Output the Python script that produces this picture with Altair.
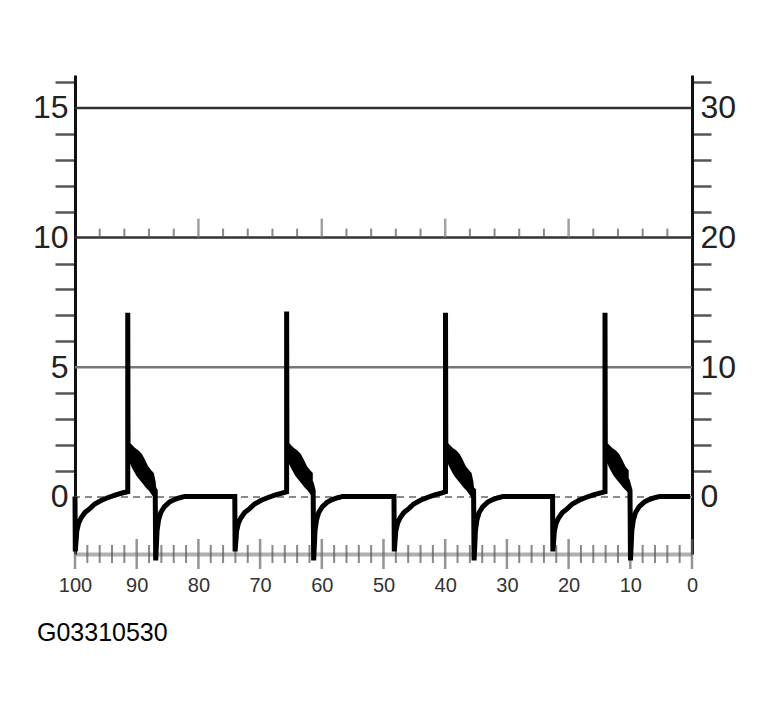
import altair as alt
import pandas as pd

# ---------------- axis values ----------------
x_labels = [100, 90, 80, 70, 60, 50, 40, 30, 20, 10, 0]
left_ticks = list(range(0, 17))          # left scale, 1 unit steps
right_ticks = list(range(0, 33, 2))      # right scale, 2 unit steps
bottom_ticks = list(range(0, 101, 2))    # ticks on the time base line
grid10_ticks = list(range(4, 100, 4))    # small marks above the 10 line
grid_levels = [15, 10, 5]
caption = "G03310530"

Y_MIN, Y_MAX = -2.2, 16.27
R_MIN, R_MAX = -4.4, 32.54

# ---------------- waveform ----------------
flat_drop_x = [100.0, 74.1, 48.3, 22.6]
spike_x = [91.45, 65.7, 39.95, 14.1]
post_drop_x = [87.0, 61.4, 35.4, 10.05]
spike_top = [7.1, 7.15, 7.1, 7.1]
trace_end_x = 0.3

# recovery after the drop from the flat part (distance after drop, value)
rec_a_d = [0.0, 0.05, 0.3, 0.6, 1.0, 1.6, 2.4, 3.2, 4.3, 5.4, 6.6, 7.8]
rec_a_y = [0.02, -2.1, -1.3, -1.0, -0.8, -0.6, -0.45, -0.27, -0.13, -0.02, 0.08, 0.16]

# ringing band after the spike (distance after spike, upper / lower edge)
band_u = [0.05, 0.4, 1.0, 1.6, 2.1, 2.6, 3.1, 3.6, 4.0, 4.3]
band_hi = [1.95, 2.0, 1.85, 1.75, 1.62, 1.4, 1.15, 1.0, 0.9, 0.55]
band_lo = [1.85, 1.4, 1.1, 0.85, 0.7, 0.55, 0.4, 0.28, 0.15, 0.05]

# recovery after the post-spike drop (distance after drop, value)
rec_b_e = [0.08, 0.3, 0.55, 0.9, 1.5, 2.3, 3.1, 4.0, 4.8]
rec_b_y = [-2.45, -1.3, -0.88, -0.6, -0.37, -0.2, -0.1, -0.03, 0.02]

xs, ys = [], []
bx, bh, bl, bc = [], [], [], []
for i in range(len(flat_drop_x)):
    F, S, P = flat_drop_x[i], spike_x[i], post_drop_x[i]
    for d, v in zip(rec_a_d, rec_a_y):
        xs.append(F - d); ys.append(v)
    xs.append(S); ys.append(0.2)
    xs.append(S); ys.append(spike_top[i])
    for u, hi, lo in zip(band_u, band_hi, band_lo):
        if u < S - P - 0.05:
            xs.append(S - u); ys.append((hi + lo) / 2)
            bx.append(S - u); bh.append(hi); bl.append(lo); bc.append(i)
    xs.append(P); ys.append(0.25)
    for e, v in zip(rec_b_e, rec_b_y):
        xs.append(P - e); ys.append(v)
xs.append(trace_end_x); ys.append(0.02)

trace = pd.DataFrame({"x": xs, "y": ys, "i": range(len(xs))})
band = pd.DataFrame({"x": bx, "hi": bh, "lo": bl, "c": bc})

# ---------------- scales & axes ----------------
xscale = alt.Scale(domain=[0, 100], reverse=True, nice=False, zero=False)
yscale = alt.Scale(domain=[Y_MIN, Y_MAX], nice=False, zero=False)
rscale = alt.Scale(domain=[R_MIN, R_MAX], nice=False, zero=False)

FONT = "Liberation Sans"

left_axis = alt.Axis(
    values=left_ticks, title=None, grid=False,
    tickSize=20, tickWidth=2.5, tickColor="#555",
    tickOpacity={"condition": {"test": "datum.value % 5 === 0", "value": 0}, "value": 1},
    labelExpr="datum.value % 5 === 0 ? datum.label : ''",
    labelFont=FONT, labelFontSize=32, labelColor="#222", labelPadding=-13,
    domainColor="#111", domainWidth=3,
)
right_axis = alt.Axis(
    orient="right", values=right_ticks, title=None, grid=False,
    tickSize=19, tickWidth=2.5, tickColor="#555",
    tickOpacity={"condition": {"test": "datum.value % 10 === 0", "value": 0}, "value": 1},
    labelExpr="datum.value % 10 === 0 ? datum.label : ''",
    labelFont=FONT, labelFontSize=32, labelColor="#222", labelPadding=-11,
    domainColor="#111", domainWidth=3,
)
bottom_axis = alt.Axis(
    values=x_labels, title=None, grid=False, ticks=False, tickSize=0,
    labelFont=FONT, labelFontSize=20, labelColor="#333", labelPadding=21,
    labelFlush=False, domainColor="#b0b0b0", domainWidth=4,
)


def X(field):
    return alt.X(field, type="quantitative", scale=xscale, axis=bottom_axis)


def Y(field):
    return alt.Y(field, type="quantitative", scale=yscale, axis=left_axis)


def YD(val):
    return alt.YDatum(val, type="quantitative", scale=yscale, axis=left_axis)


grid_df = pd.DataFrame({"v": grid_levels})
grid = alt.Chart(grid_df).mark_rule(strokeWidth=2.5).encode(
    y=Y("v"),
    color=alt.condition("datum.v === 5", alt.value("#777777"), alt.value("#333333")),
)

zero = alt.Chart(pd.DataFrame({"v": [0]})).mark_rule(
    strokeWidth=2, strokeDash=[7, 5], color="#8a8a8a"
).encode(y=Y("v"))

g10 = pd.DataFrame({"v": grid10_ticks})
g10_small = alt.Chart(g10).transform_filter("datum.v % 20 !== 0").mark_tick(
    orient="vertical", size=9, thickness=2, color="#555", yOffset=-4.5
).encode(x=X("v"), y=YD(10))
g10_tall = alt.Chart(g10).transform_filter("datum.v % 20 === 0").mark_tick(
    orient="vertical", size=19, thickness=2.5, color="#777", yOffset=-9.5
).encode(x=X("v"), y=YD(10))

bt = pd.DataFrame({"v": bottom_ticks})
bt_minor = alt.Chart(bt).transform_filter("datum.v % 10 !== 0").mark_tick(
    orient="vertical", size=18, thickness=2, color="#555"
).encode(x=X("v"), y=YD(Y_MIN))
bt_major = alt.Chart(bt).transform_filter("datum.v % 10 === 0").mark_tick(
    orient="vertical", size=30, thickness=2.5, color="#666"
).encode(x=X("v"), y=YD(Y_MIN))

band_area = alt.Chart(band).mark_area(
    color="black", stroke="black", strokeWidth=3, clip=False
).encode(x=X("x"), y=Y("hi"), y2="lo", detail="c:N")

line = alt.Chart(trace).mark_line(
    color="black", strokeWidth=5, strokeCap="butt", clip=False
).encode(x=X("x"), y=Y("y"), order="i:Q")

left_layers = alt.layer(grid, zero, g10_small, g10_tall, bt_minor, bt_major, band_area, line)

right = alt.Chart(pd.DataFrame({"v": right_ticks})).mark_point(opacity=0).encode(
    y=alt.Y("v:Q", scale=rscale, axis=right_axis)
)

chart = alt.layer(left_layers, right).resolve_scale(y="independent").properties(
    width=617, height=479,
    autosize=alt.AutoSizeParams(type="none"),
    padding={"left": 67, "top": 67, "right": 76, "bottom": 150},
    background="white",
    title=alt.TitleParams(
        caption, orient="bottom", anchor="start", frame="group",
        font=FONT, fontSize=25, fontWeight="normal", color="black",
        dx=-38, offset=26,
    ),
).configure_view(strokeWidth=0)

chart.save("out.html", embed_options={"renderer": "svg", "actions": False})
